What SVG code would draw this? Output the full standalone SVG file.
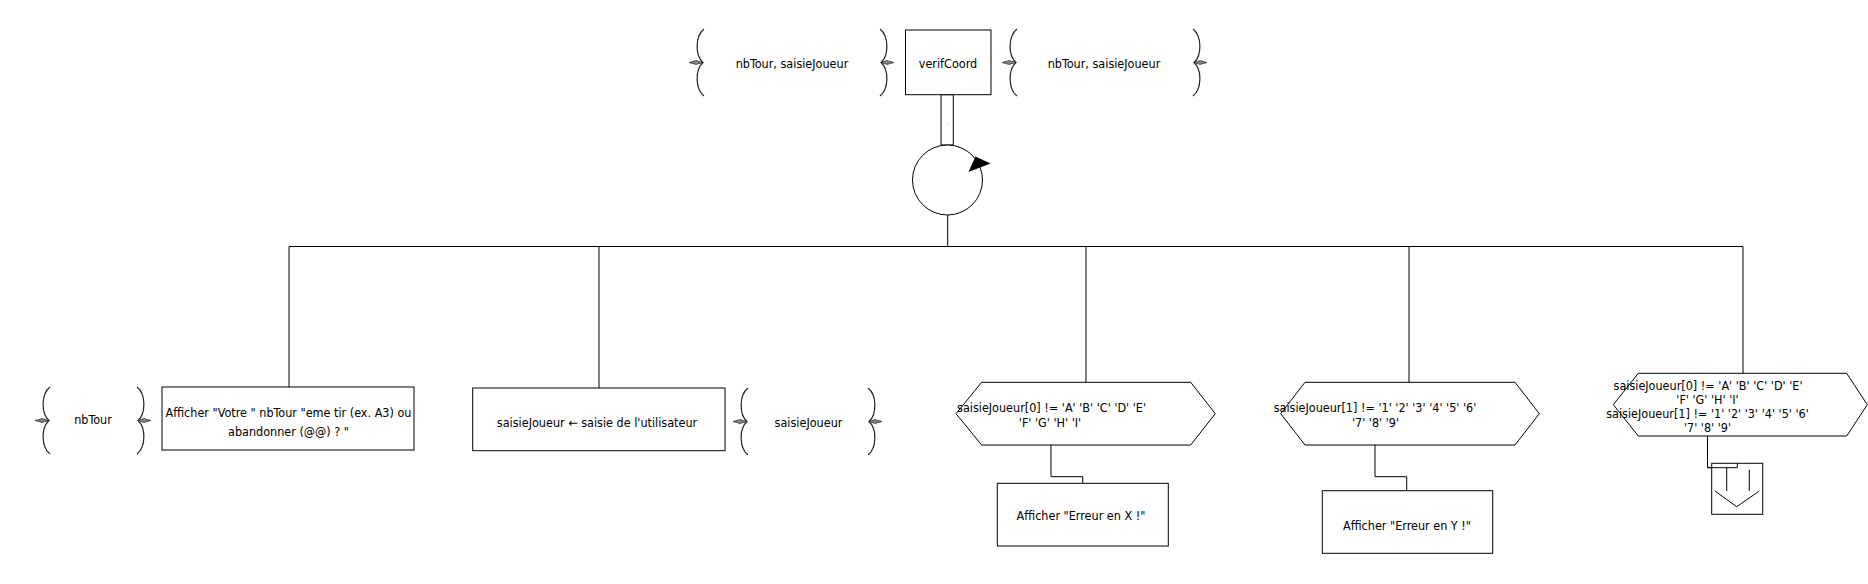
<svg xmlns="http://www.w3.org/2000/svg" width="1868" height="584" viewBox="0 0 1868 584">
<style>
.s{fill:#fff;stroke:#000;stroke-width:1}
.l{fill:none;stroke:#000;stroke-width:1}
.br{fill:none;stroke:#222;stroke-width:1.2}
.nub{fill:#888;stroke:#333;stroke-width:0.8}
text{font-family:"DejaVu Sans Condensed","DejaVu Sans",sans-serif;font-size:12.5px;fill:#000;text-anchor:middle;dominant-baseline:central}
</style>
<defs>
<g id="bl"><path class="br" d="M15,0 C6,7 6,26.5 14,33.5 C6,40.5 6,60 15,67"/><path class="nub" d="M0,33.5 L7,31.6 L14,33.5 L7,35.4 Z"/></g>
<g id="brr"><path class="br" d="M0,0 C9,7 9,26.5 1,33.5 C9,40.5 9,60 0,67"/><path class="nub" d="M14,33.5 L7,31.6 L1,33.5 L7,35.4 Z"/></g>
</defs>
<rect width="1868" height="584" fill="#fff"/>
<g id="connectors">
<rect class="l" x="941" y="94.7" width="12.3" height="50.3"/>
<circle cx="947.7" cy="124" r="0.6" fill="#888"/>
<path class="l" d="M947.7,215 V246.5"/>
<path class="l" d="M289,246.5 H1743"/>
<path class="l" d="M289,246.5 V387"/>
<path class="l" d="M599,246.5 V388"/>
<path class="l" d="M1086,246.5 V382.3"/>
<path class="l" d="M1409,246.5 V382.3"/>
<path class="l" d="M1743,246.5 V373.3"/>
<path class="l" d="M1051,445 V476.7 H1082.7 V483.3"/>
<path class="l" d="M1375,445 V476.7 H1406.7 V490.7"/>
<path class="l" d="M1707.5,436 V467.7 H1737.3 V463.3"/>
</g>
<g id="params-in-top">
<use href="#bl" x="689" y="29"/><use href="#brr" x="880" y="29"/>
<text x="792" y="63.5">nbTour, saisieJoueur</text>
</g>
<g id="verifCoord">
<rect class="s" x="905.5" y="30" width="85.5" height="64.7"/>
<text x="948" y="63">verifCoord</text>
</g>
<g id="params-out-top">
<use href="#bl" x="1002" y="29"/><use href="#brr" x="1193" y="29"/>
<text x="1104" y="63.5">nbTour, saisieJoueur</text>
</g>
<g id="loop">
<circle class="s" cx="947.5" cy="180" r="35"/>
<path d="M968.5,172 L975.5,156.5 L990.5,163.5 Z" fill="#000"/>
</g>
<g id="params-nbTour">
<use href="#bl" x="35" y="387"/><use href="#brr" x="137" y="387"/>
<text x="93" y="419.5">nbTour</text>
</g>
<g id="afficher-votre">
<rect class="s" x="162" y="387" width="252" height="63"/>
<text x="288.5" y="412.5">Afficher "Votre " nbTour "eme tir (ex. A3) ou</text>
<text x="288.5" y="431">abandonner (@@) ? "</text>
</g>
<g id="saisie">
<rect class="s" x="472.7" y="388" width="252.3" height="62.7"/>
<text x="597" y="422.5">saisieJoueur ← saisie de l'utilisateur</text>
</g>
<g id="params-saisie">
<use href="#bl" x="733" y="388"/><use href="#brr" x="868" y="388"/>
<text x="808.5" y="422">saisieJoueur</text>
</g>
<g id="cond-x">
<path class="s" d="M956,413.7 L981.7,382.3 H1190.7 L1215.3,413.7 L1190.7,445 H981.7 Z"/>
<text x="1051.5" y="407.5">saisieJoueur[0] != 'A' 'B' 'C' 'D' 'E'</text>
<text x="1050" y="422.5">'F' 'G' 'H' 'I'</text>
</g>
<g id="err-x">
<rect class="s" x="997.3" y="483.3" width="171" height="62.7"/>
<text x="1081" y="515.5">Afficher "Erreur en X !"</text>
</g>
<g id="cond-y">
<path class="s" d="M1280.7,413.7 L1305,382.3 H1515 L1539.3,413.7 L1515,445 H1305 Z"/>
<text x="1375" y="407.5">saisieJoueur[1] != '1' '2' '3' '4' '5' '6'</text>
<text x="1375.5" y="422.5">'7' '8' '9'</text>
</g>
<g id="err-y">
<rect class="s" x="1322.3" y="490.7" width="170.4" height="62.6"/>
<text x="1407" y="525">Afficher "Erreur en Y !"</text>
</g>
<g id="cond-xy">
<path class="s" d="M1613.3,404.7 L1638.3,373.3 H1846.7 L1867.3,404.7 L1846.7,436 H1638.3 Z"/>
<text x="1708" y="385.5">saisieJoueur[0] != 'A' 'B' 'C' 'D' 'E'</text>
<text x="1707.5" y="399.5">'F' 'G' 'H' 'I'</text>
<text x="1707.5" y="413.5">saisieJoueur[1] != '1' '2' '3' '4' '5' '6'</text>
<text x="1707.5" y="427.5">'7' '8' '9'</text>
</g>
<g id="exit">
<rect class="s" x="1711.7" y="463.3" width="51" height="51"/>
<path class="l" d="M1707.5,467.7 H1737.3 V463.3"/>
<path class="l" d="M1726.7,467.7 V491 M1749.3,470 V491 M1715,491 L1736.7,506.7 L1759.3,491"/>
</g>
</svg>
